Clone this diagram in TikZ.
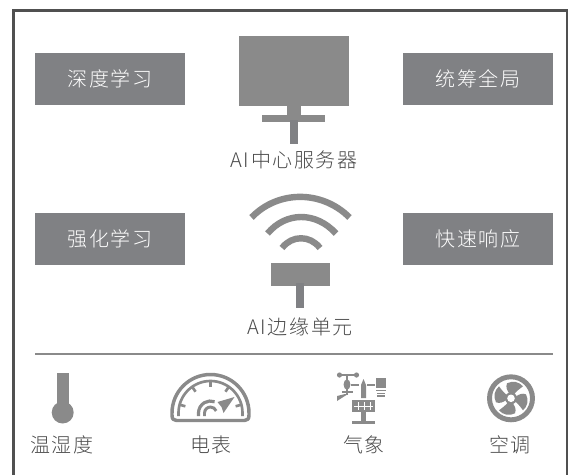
\documentclass[tikz,border=0pt]{standalone}
\usepackage{fontspec}
\setmainfont{Noto Sans CJK SC Light}
\newfontfamily\spacedcjk[LetterSpace=8]{Noto Sans CJK SC Light}
\definecolor{fillg}{HTML}{808184}
\definecolor{iconc}{HTML}{8A8A8A}
\definecolor{framec}{HTML}{505050}
\definecolor{textc}{HTML}{4A4A4A}
\tikzset{
  x=0.75pt,y=-0.75pt,
  boxlabel/.style={fill=fillg,text=white,minimum width=112.5pt,minimum height=39pt,inner sep=0pt,font=\spacedcjk\fontsize{15}{15}\selectfont},
  caption/.style={text=textc,inner sep=0pt,font=\spacedcjk\fontsize{15}{15}\selectfont},
  solidg/.style={fill=iconc,draw=none},
  stemg/.style={fill=fillg,draw=none},
  arcg/.style={draw=iconc,line cap=butt},
}
\begin{document}
\begin{tikzpicture}
\useasboundingbox (0,0) rectangle (575,475);
% frame
\draw[framec,line width=2.2pt] (13.5,480) -- (13.5,10.5) -- (567,10.5) -- (567,480);
% side boxes
\node[boxlabel] (b1) at (110,79) {深度学习};
\node[boxlabel] (b2) at (478,79) {统筹全局};
\node[boxlabel] (b3) at (110,239) {强化学习};
\node[boxlabel] (b4) at (478,239) {快速响应};
% server
\fill[solidg] (239,36) rectangle (349,106);
\fill[solidg] (287,106) rectangle (301,116);
\fill[solidg] (262,115) rectangle (325,122);
\fill[stemg] (290,120) rectangle (298,144);
\node[caption] (server) at (294,160) {AI中心服务器};
% wifi
\begin{scope}[arcg,line width=4.8pt]
\draw (251.5,217.5) .. controls (278,190) and (322,190) .. (349.5,217.5);
\draw (267.5,233.5) .. controls (286,211.5) and (316,211.5) .. (336,233.5);
\draw (282,248) .. controls (292,235) and (310,235) .. (320,248);
\end{scope}
\fill[solidg] (271,263) rectangle (330,286);
\fill[stemg] (296,283) rectangle (304,308);
\node[caption] (edge) at (300,327) {AI边缘单元};
% divider
\draw[draw=iconc,line width=2.1pt] (35,354) -- (553,354);
% thermometer
\fill[solidg] (57,373) rectangle (68.5,405);
\fill[solidg] (62.7,412.5) circle (11);
\node[caption] (temp) at (62,445) {温湿度};
% gauge
\begin{scope}[shift={(210.5,413)}]
\draw[iconc,line width=2.6pt,line join=round] (-38.5,2) -- (-38.5,0) arc[start angle=180,end angle=360,radius=38.5] -- (38.5,2) .. controls (38.5,6) and (37,7.5) .. (34,7.5) -- (-34,7.5) .. controls (-37,7.5) and (-38.5,6) .. (-38.5,2) -- cycle;
\draw[iconc,line width=2pt] (-32,3) -- (-32,0) arc[start angle=180,end angle=360,radius=32] -- (32,3);
\foreach \a in {15,55,90,125,165} \draw[iconc,line width=2pt] (-\a:32) -- (-\a:26);
\draw[iconc,line width=2.4pt] (-12,3) -- (-12,0) arc[start angle=180,end angle=290,radius=12];
\draw[iconc,line width=2.2pt] (-6,3) -- (-6,0) arc[start angle=180,end angle=340,radius=6];
\fill[iconc] (7,-11) -- (24,-16) -- (13,0) -- (11,-6) -- cycle;
\end{scope}
\node[caption] (meter) at (211,445) {电表};
% weather station
\begin{scope}
\draw[iconc,line width=1.3pt] (339,375) -- (357,375);
\fill[iconc] (339.5,375) circle (2.6) (356.5,375) circle (2.6);
\draw[iconc,line width=1.3pt] (347,375) -- (347,395);
\fill[iconc] (347,384.5) ellipse (3.4 and 5.2);
\draw[iconc,line width=1.3pt] (351,385) -- (359,385);
\draw[iconc,line width=1.3pt] (342,392) -- (353,392);
\fill[iconc] (337,401) -- (337,396) -- (345,394) -- (348,394) -- cycle;
\fill[iconc] (361,398) -- (361,385) -- (363.5,379) -- (366,385) -- (366,398) -- cycle;
\draw[iconc,line width=1.3pt] (367,385) -- (375,385);
\fill[iconc] (376,378) rectangle (386,388);
\fill[iconc] (376,389.5) rectangle (386,391.2);
\fill[iconc] (377,392.5) rectangle (385,394);
\fill[iconc] (377,395.2) rectangle (385,396.8);
\fill[iconc] (352,400) rectangle (375,412);
\draw[white,line width=0.7pt] (354,406) -- (373,406) (358,402) -- (358,410) (364,402) -- (364,410) (370,402) -- (370,410);
\fill[iconc] (361,412) rectangle (366,421);
\fill[iconc] (352,421) rectangle (375,423.5);
\end{scope}
\node[caption] (weather) at (364,445) {气象};
% fan
\begin{scope}[shift={(511,398.3)}]
\draw[iconc,line width=3.7pt] (0,0) circle (21.5);
\foreach \r in {0,90,180,270}
  \fill[iconc,rotate=\r] (-1.5,-4.5) .. controls (-4,-8) and (-5.5,-11) .. (-4,-15) .. controls (2,-18) and (8,-16.5) .. (12,-12) .. controls (8,-9) and (4,-6) .. (3,-3.5) -- cycle;
\fill[iconc] (0,0) circle (6);
\fill[white] (0,0) circle (3.8);
\end{scope}
\node[caption] (ac) at (510,445) {空调};
\end{tikzpicture}
\end{document}
